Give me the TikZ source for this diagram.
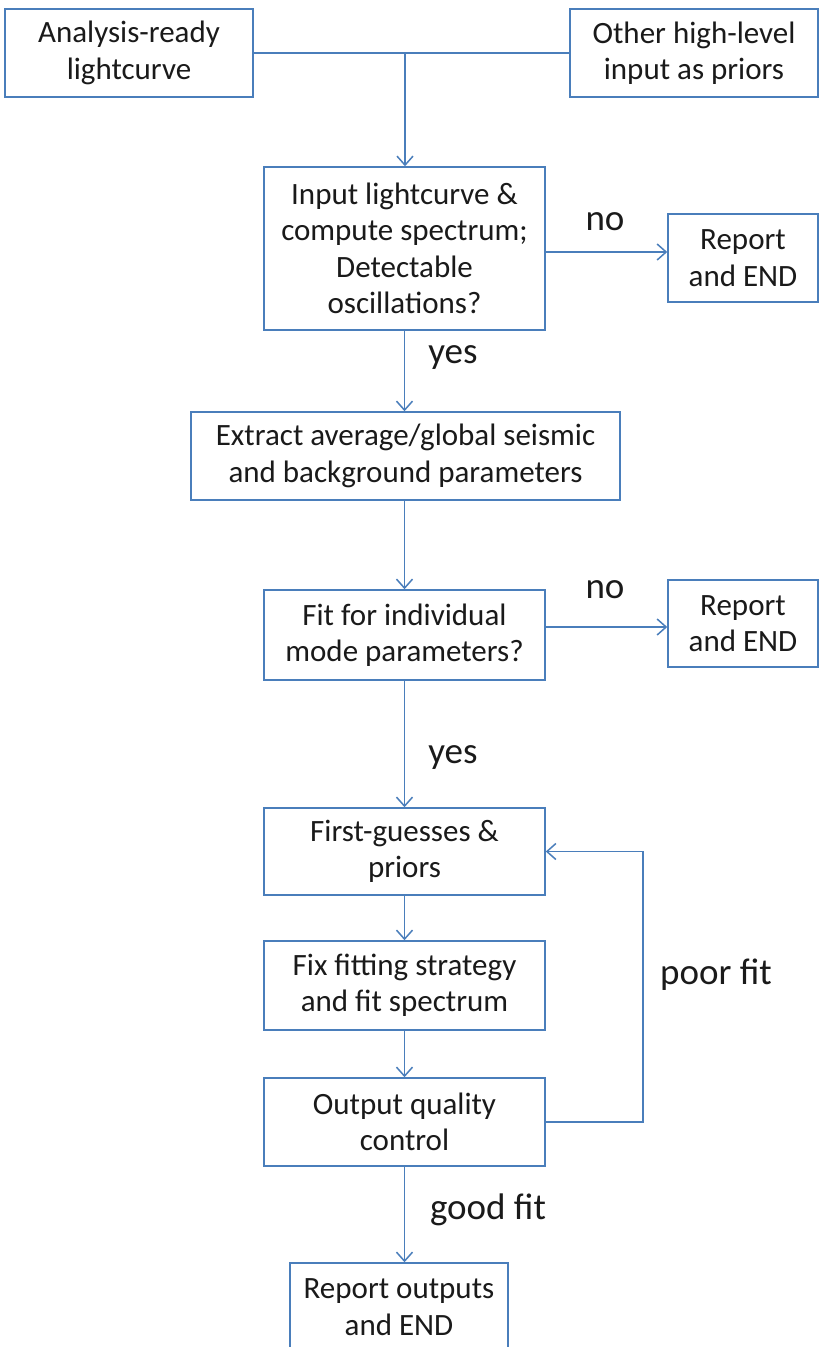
\documentclass[tikz,border=0pt]{standalone}
\usepackage{fontspec}
\setmainfont{Carlito}
\usetikzlibrary{arrows.meta}
\definecolor{lineblue}{HTML}{4A7EBB}
\definecolor{txt}{HTML}{1A1A1A}
\begin{document}
\begin{tikzpicture}[x=1pt,y=-1pt,
  box/.style={draw=lineblue,line width=1.5pt,rectangle,inner sep=0pt,align=center,
    text=txt,font=\fontsize{31}{36.5}\selectfont},
  arr/.style={draw=lineblue,line width=1.5pt,-{Straight Barb[length=9pt,width=16pt,line width=1.5pt]}},
  ln/.style={draw=lineblue,line width=1.5pt},
  lbl/.style={text=txt,font=\fontsize{37}{40}\selectfont,inner sep=0pt}]
\clip (0,0) rectangle (820,1347);
\fill[white] (0,0) rectangle (820,1347);
\node[box,minimum width=248pt,minimum height=88pt] (A) at (129,53) {Analysis-ready\\lightcurve};
\node[box,minimum width=248pt,minimum height=88pt] (B) at (694,53) {Other high-level\\input as priors};
\node[box,minimum width=281pt,minimum height=163pt] (C) at (404.5,248.5) {Input lightcurve \&\\compute spectrum;\\Detectable\\oscillations?};
\node[box,minimum width=150pt,minimum height=88pt] (R1) at (743,258) {Report\\and END};
\node[box,minimum width=429pt,minimum height=88pt] (D) at (405.5,456) {Extract average/global seismic\\and background parameters};
\node[box,minimum width=281pt,minimum height=90pt] (E) at (404.5,635) {Fit for individual\\mode parameters?};
\node[box,minimum width=150pt,minimum height=87pt] (R2) at (743,623.5) {Report\\and END};
\node[box,minimum width=281pt,minimum height=87pt] (F) at (404.5,851.5) {First-guesses \&\\priors};
\node[box,minimum width=281pt,minimum height=89pt] (G) at (404.5,985.5) {Fix fitting strategy\\and fit spectrum};
\node[box,minimum width=281pt,minimum height=88pt] (H) at (404.5,1122) {Output quality\\control};
\node[box,minimum width=218pt,minimum height=88pt] (I) at (399,1307) {Report outputs\\and END};

\coordinate (j) at (405,53);
\coordinate (c1) at (0,252);
\coordinate (e1) at (0,627);
\coordinate (lx) at (643,0);

\draw[ln] (A.east) -- (B.west);
\draw[arr] (j) -- (j |- C.north);
\draw[arr] (C.east |- c1) -- (R1.west |- c1);
\draw[arr] (C.south) -- (C.south |- D.north);
\draw[arr] (D.south -| C.south) -- (E.north);
\draw[arr] (E.east |- e1) -- (R2.west |- e1);
\draw[arr] (E.south) -- (F.north);
\draw[arr] (F.south) -- (G.north);
\draw[arr] (G.south) -- (H.north);
\draw[arr] (H.east) -- (lx |- H.east) -- (lx |- F.east) -- (F.east);
\draw[arr] (H.south) -- (H.south |- I.north);

\node[lbl] (no1) at (605,222) {no};
\node[lbl] (no2) at (605,590) {no};
\node[lbl] (yes1) at (453,358) {yes};
\node[lbl] (yes2) at (453,758) {yes};
\node[lbl] (poor) at (716,975) {poor fit};
\node[lbl] (good) at (488,1210) {good fit};
\end{tikzpicture}
\end{document}
